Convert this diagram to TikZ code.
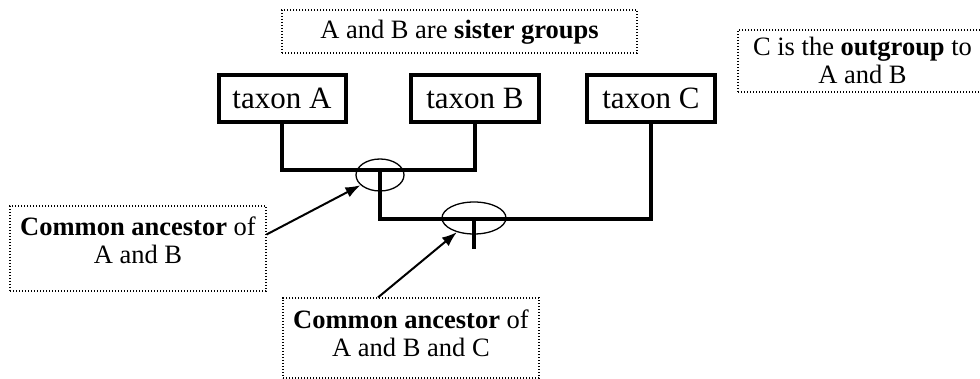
\documentclass[tikz,border=0pt]{standalone}
\usepackage{fontspec}
\setmainfont{Liberation Serif}
\usetikzlibrary{shapes.geometric,arrows.meta}
\begin{document}
\begin{tikzpicture}[x=1pt,y=-1pt,
  taxonbox/.style={draw,line width=4pt,inner sep=0pt,minimum width=127pt,minimum height=47pt,
    font=\fontsize{31}{34}\selectfont},
  notebox/.style={draw,line width=1.1pt,dash pattern=on 1.1pt off 1.9pt,inner sep=0pt},
  notetext/.style={align=center,inner sep=0pt,font=\fontsize{26.5}{28}\selectfont},
  branch/.style={line width=4pt},
  ring/.style={draw,ellipse,line width=1.3pt,inner sep=0pt},
  pointer/.style={line width=2pt,-{Latex[length=15pt,width=11pt]}}]
\useasboundingbox (0,0) rectangle (980,379);

% caption frames
\node[notebox,minimum width=355pt,minimum height=43pt] (sister) at (459.5,31.5) {};
\node[notebox,minimum width=249pt,minimum height=62pt] (outgroup) at (862.5,61) {};
\node[notebox,minimum width=256pt,minimum height=85pt] (ancAB) at (138,248.5) {};
\node[notebox,minimum width=256pt,minimum height=80pt] (ancABC) at (411,338) {};

% caption texts
\node[notetext] (sistertxt) at ([yshift=-1pt]sister.center) {A and B are \textbf{sister groups}};
\node[notetext] (outgrouptxt) at ([yshift=1pt]outgroup.center) {C is the \textbf{outgroup} to\\A and B};
\node[notetext] (ancABtxt) at ([yshift=8pt]ancAB.center) {\textbf{Common ancestor} of\\A and B};
\node[notetext] (ancABCtxt) at ([yshift=5pt]ancABC.center) {\textbf{Common ancestor} of\\A and B and C};

% taxa
\node[taxonbox] (taxA) at (282,98.5) {taxon A};
\node[taxonbox,minimum width=128pt] (taxB) at (475,98.5) {taxon B};
\node[taxonbox,minimum width=128pt] (taxC) at (651,98.5) {taxon C};

% tree
\coordinate (nodeAB) at (380,170);
\coordinate (nodeABC) at (474,219);
\coordinate (root) at (474,249);
\draw[branch] (taxA.south) |- (nodeAB) -| (taxB.south);
\draw[branch] (nodeAB) |- (nodeABC) -| (taxC.south);
\draw[branch] (nodeABC) -- (root);

% highlighted nodes
\node[ring,minimum width=48pt,minimum height=32pt] (ringAB) at (380,175) {};
\node[ring,minimum width=64pt,minimum height=32pt] (ringABC) at (474,218) {};

% pointers
\draw[pointer] ([yshift=14pt]ancAB.east) -- (ringAB);
\draw[pointer] ([xshift=-33pt]ancABC.north) -- (ringABC);
\end{tikzpicture}
\end{document}
